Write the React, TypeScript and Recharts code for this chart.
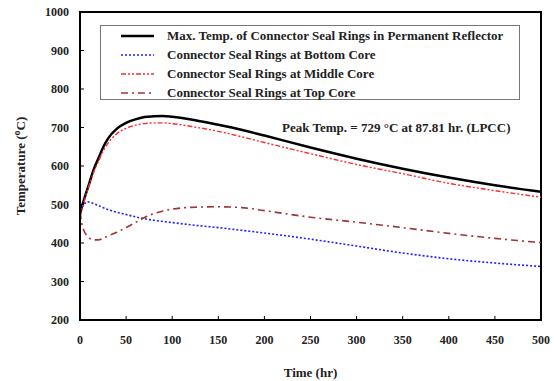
import React from 'react';
import { LineChart, Line, XAxis, YAxis, Legend, ReferenceArea, ReferenceDot, Label } from 'recharts';

const times = [0, 2, 5, 8, 10, 15, 20, 25, 30, 40, 50, 60, 70, 80, 90, 100, 125, 150, 175, 200, 250, 300, 350, 400, 450, 500];
const maxTemp = [476, 494, 518, 540, 555, 592, 620, 648, 670, 697, 712, 721, 727, 729, 730, 728, 719, 707, 694, 679, 648, 619, 593, 570, 550, 533];
const bottomCore = [484, 492, 502, 507, 506, 502, 497, 492, 487, 480, 474, 468, 463, 459, 456, 453, 446, 440, 433, 426, 410, 392, 374, 359, 348, 339];
const middleCore = [468, 485, 512, 536, 550, 585, 612, 638, 658, 684, 698, 706, 710, 712, 712, 710, 701, 690, 676, 661, 632, 604, 580, 555, 536, 519];
const topCore = [480, 450, 428, 418, 413, 408, 408, 412, 418, 428, 440, 453, 466, 476, 483, 488, 493, 494, 492, 484, 467, 454, 440, 425, 412, 401];

const xTicks = [0, 50, 100, 150, 200, 250, 300, 350, 400, 450, 500];
const yTicks = [200, 300, 400, 500, 600, 700, 800, 900, 1000];

const seriesNames = [
  'Max. Temp. of Connector Seal Rings in Permanent Reflector',
  'Connector Seal Rings at Bottom Core',
  'Connector Seal Rings at Middle Core',
  'Connector Seal Rings at Top Core',
];

const data = times.map((t, i) => ({
  t,
  max: maxTemp[i],
  bottom: bottomCore[i],
  middle: middleCore[i],
  top: topCore[i],
}));

const FONT = "'Liberation Serif', 'DejaVu Serif', serif";
const TXT = '#222';

const series = [
  { key: 'max', name: seriesNames[0], color: '#000000', width: 2.5, dash: undefined as string | undefined },
  { key: 'bottom', name: seriesNames[1], color: '#1f1fff', width: 1.6, dash: '2 2' },
  { key: 'middle', name: seriesNames[2], color: '#ff2a2a', width: 1.4, dash: '5 2 2 2 2 2' },
  { key: 'top', name: seriesNames[3], color: '#9e3535', width: 1.6, dash: '7 4 2 4' },
];

const LegendBox = () => (
  <div
    style={{
      width: 420,
      height: 75,
      border: '1.5px solid #777',
      background: '#fff',
      boxSizing: 'border-box',
      paddingTop: 1,
    }}
  >
    {series.map((s) => (
      <div key={s.key} style={{ display: 'flex', alignItems: 'center', height: 18.8 }}>
        <svg width={66} height={10} style={{ display: 'block' }}>
          <line x1={20} x2={53} y1={5} y2={5} stroke={s.color} strokeWidth={s.width} strokeDasharray={s.dash} />
        </svg>
        <span style={{ fontFamily: FONT, fontWeight: 'bold', fontSize: 13, color: TXT, whiteSpace: 'nowrap' }}>{s.name}</span>
      </div>
    ))}
  </div>
);

const YLabel = (props: any) => {
  const vb = props.viewBox || {};
  const cy = vb.y + vb.height / 2;
  return (
    <text
      x={20}
      y={cy}
      transform={`rotate(-90, 20, ${cy})`}
      textAnchor="middle"
      dominantBaseline="central"
      style={{ fontFamily: FONT, fontWeight: 'bold', fontSize: 13, fill: TXT }}
    >
      Temperature (<tspan fontSize={10} dy={-4}>o</tspan><tspan dy={4}>C)</tspan>
    </text>
  );
};

export default function App() {
  const tickStyle = { fontFamily: FONT, fontWeight: 'bold' as const, fontSize: 12, fill: TXT };
  return (
    <div style={{ position: 'absolute', left: 0, top: 0, width: 554, height: 381, background: '#fff', fontFamily: FONT }}>
      <LineChart width={554} height={381} data={data} margin={{ top: 12, right: 13, left: 0, bottom: 0 }} style={{ fontFamily: FONT }}>
        <XAxis
          dataKey="t"
          type="number"
          domain={[0, 500]}
          ticks={xTicks}
          interval={0}
          height={61}
          tickSize={-4}
          tickMargin={19}
          tick={tickStyle}
          axisLine={{ stroke: '#000', strokeWidth: 2 }}
          tickLine={{ stroke: '#000', strokeWidth: 1 }}
        >
          <Label value="Time (hr)" position="insideBottom" offset={4} style={{ fontFamily: FONT, fontWeight: 'bold', fontSize: 13, fill: TXT }} />
        </XAxis>
        <YAxis
          type="number"
          domain={[200, 1000]}
          ticks={yTicks}
          interval={0}
          width={80}
          tickSize={-4}
          tickMargin={15}
          tick={tickStyle}
          axisLine={{ stroke: '#000', strokeWidth: 2 }}
          tickLine={{ stroke: '#000', strokeWidth: 1 }}
        >
          <Label content={<YLabel />} />
        </YAxis>
        <ReferenceArea x1={0} x2={500} y1={200} y2={1000} fill="none" stroke="#000" strokeWidth={2} ifOverflow="visible" />
        <Legend
          layout="vertical"
          align="center"
          verticalAlign="middle"
          content={<LegendBox />}
          wrapperStyle={{ position: 'absolute', left: 100, top: 25, width: 422, height: 77 }}
        />
        {series.map((s) => (
          <Line
            key={s.key}
            type="monotone"
            dataKey={s.key}
            name={s.name}
            stroke={s.color}
            strokeWidth={s.width}
            strokeDasharray={s.dash}
            dot={false}
            activeDot={false}
            isAnimationActive={false}
          />
        ))}
        <ReferenceDot x={343} y={701} r={0} fill="none" stroke="none" ifOverflow="visible">
          <Label
            value="Peak Temp. = 729 °C at 87.81 hr. (LPCC)"
            position="center"
            style={{ fontFamily: FONT, fontWeight: 'bold', fontSize: 13, fill: TXT }}
          />
        </ReferenceDot>
      </LineChart>
    </div>
  );
}
